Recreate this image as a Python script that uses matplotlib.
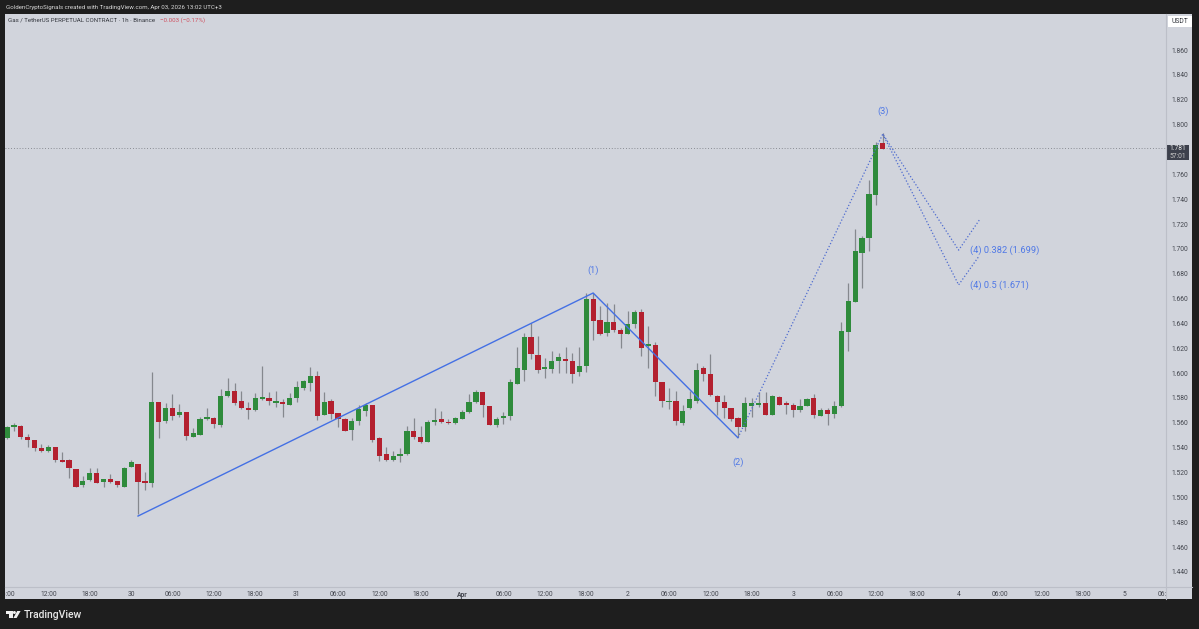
import matplotlib
matplotlib.use("Agg")
import matplotlib.pyplot as plt
from matplotlib.patches import Rectangle, Polygon, Circle
from matplotlib.transforms import Bbox

plt.rcParams['font.family'] = ['Roboto', 'DejaVu Sans']

opens = [1.5476,1.5565,1.5578,1.5490,1.5460,1.5398,1.5372,1.5409,1.5302,1.5299,1.5230,1.5098,1.5136,1.5197,1.5122,1.5147,1.5128,1.5085,1.5246,1.5267,1.5128,1.5117,
 1.5768,1.5616,1.5720,1.5666,1.5688,1.5484,1.5506,1.5629,1.5640,1.5586,1.5814,1.5857,1.5779,1.5720,1.5704,1.5795,1.5801,1.5763,1.5768,1.5744,1.5798,
 1.5878,1.5923,1.5977,1.5666,1.5779,1.5677,1.5629,1.5545,1.5615,1.5693,1.5746,1.5479,1.5350,1.5302,1.5336,1.5347,1.5537,1.5489,1.5444,1.5607,1.5629,1.5610,1.5596,1.5634,1.5688,1.5765,1.5846,1.5738,1.5586,1.5637,1.5655,
 1.5916,1.6026,1.6288,1.6149,1.6036,1.6036,1.6095,1.6117,1.6098,1.6007,
 1.6058,1.6596,1.6427,1.6326,1.6409,1.6347,1.6315,1.6395,1.6489,1.6221,1.6226,1.5926,1.5765,1.5779,1.5602,1.5717,1.5779,1.6041,1.5996,1.5816,1.5765,1.5717,1.5637,1.5564,1.5739,1.5744,1.5757,1.5666,1.5808,1.5749,1.5747,1.5706,1.5739,1.5798,1.5656,1.5706,1.5669,1.5736,
 1.6330,1.6571,1.6965,1.7088,1.7434,1.7850]
highs = [1.5575,1.5597,1.5583,1.5511,1.5460,1.5428,1.5425,1.5409,1.5366,1.5307,1.5230,1.5173,1.5240,1.5240,1.5147,1.5187,1.5128,1.5246,1.5297,1.5267,1.5208,1.6010,
 1.5768,1.5758,1.5830,1.5750,1.5688,1.5559,1.5645,1.5720,1.5650,1.5870,1.5959,1.5924,1.5859,1.5766,1.5838,1.6058,1.5849,1.5859,1.5790,1.5838,1.5937,
 1.5945,1.6047,1.6020,1.5846,1.5795,1.5677,1.5637,1.5637,1.5744,1.5757,1.5746,1.5489,1.5409,1.5377,1.5395,1.5575,1.5637,1.5578,1.5623,1.5717,1.5696,1.5631,1.5650,1.5704,1.5830,1.5864,1.5846,1.5738,1.5645,1.5688,1.5950,
 1.6208,1.6326,1.6401,1.6299,1.6119,1.6181,1.6160,1.6208,1.6160,1.6208,
 1.6642,1.6642,1.6540,1.6567,1.6556,1.6360,1.6500,1.6508,1.6513,1.6382,1.6253,1.5932,1.5883,1.5859,1.5744,1.5857,1.6079,1.6058,1.6154,1.5824,1.5827,1.5717,1.5650,1.5811,1.5798,1.5846,1.5846,1.5824,1.5816,1.5776,1.5757,1.5790,1.5798,1.5830,1.5717,1.5717,1.5779,1.6414,
 1.6729,1.7158,1.7105,1.7555,1.7863,1.7930]
lows = [1.5468,1.5538,1.5468,1.5409,1.5377,1.5369,1.5366,1.5281,1.5281,1.5157,1.5082,1.5080,1.5130,1.5112,1.5080,1.5114,1.5080,1.5085,1.5243,1.4870,1.5061,1.5080,
 1.5482,1.5597,1.5624,1.5645,1.5463,1.5484,1.5506,1.5624,1.5557,1.5570,1.5806,1.5744,1.5712,1.5632,1.5699,1.5784,1.5741,1.5725,1.5650,1.5744,1.5771,
 1.5864,1.5859,1.5623,1.5661,1.5631,1.5567,1.5535,1.5462,1.5583,1.5658,1.5449,1.5291,1.5294,1.5296,1.5288,1.5339,1.5468,1.5441,1.5444,1.5580,1.5602,1.5591,1.5591,1.5634,1.5682,1.5763,1.5650,1.5580,1.5570,1.5591,1.5623,
 1.5916,1.5940,1.6114,1.6004,1.5959,1.5999,1.5999,1.5999,1.5924,1.5977,
 1.6012,1.6267,1.6307,1.6301,1.6328,1.6200,1.6315,1.6360,1.6138,1.6044,1.5816,1.5731,1.5709,1.5586,1.5581,1.5709,1.5757,1.5937,1.5816,1.5664,1.5637,1.5618,1.5489,1.5538,1.5650,1.5731,1.5666,1.5666,1.5741,1.5669,1.5650,1.5688,1.5733,1.5640,1.5656,1.5581,1.5642,1.5725,
 1.6175,1.6571,1.6689,1.6979,1.7354,1.7801]
closes = [1.5570,1.5586,1.5487,1.5463,1.5396,1.5372,1.5409,1.5297,1.5286,1.5238,1.5085,1.5128,1.5197,1.5114,1.5147,1.5122,1.5098,1.5240,1.5281,1.5122,1.5117,1.5768,
 1.5605,1.5720,1.5656,1.5688,1.5495,1.5516,1.5629,1.5650,1.5594,1.5817,1.5857,1.5763,1.5717,1.5704,1.5798,1.5809,1.5776,1.5779,1.5755,1.5798,1.5886,
 1.5939,1.5977,1.5655,1.5768,1.5674,1.5629,1.5535,1.5615,1.5709,1.5744,1.5465,1.5336,1.5304,1.5336,1.5350,1.5537,1.5486,1.5446,1.5604,1.5618,1.5604,1.5596,1.5637,1.5688,1.5765,1.5846,1.5746,1.5586,1.5629,1.5655,1.5926,
 1.6039,1.6288,1.6154,1.6026,1.6042,1.6101,1.6130,1.6095,1.5993,1.6058,
 1.6596,1.6417,1.6315,1.6409,1.6344,1.6315,1.6395,1.6489,1.6205,1.6226,1.5926,1.5773,1.5776,1.5615,1.5696,1.5790,1.6025,1.5996,1.5827,1.5765,1.5717,1.5629,1.5564,1.5757,1.5757,1.5752,1.5666,1.5816,1.5747,1.5747,1.5706,1.5739,1.5790,1.5666,1.5706,1.5669,1.5739,1.6339,
 1.6579,1.6979,1.7086,1.7440,1.7839,1.7801]

wave_x = [19, 85, 106]
wave_y = [1.485, 1.6645, 1.548]
fib382_x = [106, 127, 138, 141]
fib382_y = [1.548, 1.7924, 1.699, 1.7232]
fib5_x = [127, 138, 141]
fib5_y = [1.7924, 1.671, 1.6945]
last_price = 1.7808

x_ticks = [0,6,12,18,24,30,36,42,48,54,60,66,72,78,84,90,96,102,108,114,120,126,132,138,144,150,156,162,168]
x_labels = ['06:00','12:00','18:00','30','06:00','12:00','18:00','31','06:00','12:00','18:00','Apr','06:00','12:00','18:00','2','06:00','12:00','18:00','3','06:00','12:00','18:00','4','06:00','12:00','18:00','5','06:00']
y_ticks = [1.44,1.46,1.48,1.50,1.52,1.54,1.56,1.58,1.60,1.62,1.64,1.66,1.68,1.70,1.72,1.74,1.76,1.80,1.82,1.84,1.86]

W, H = 1199, 629
PANEL = '#d1d4dc'
DARK = '#1e1e1e'
GREEN = '#2f8b3c'
RED = '#b3202f'
WICK = '#85888e'
BLUE = '#4470e4'
DOT = '#4f6cd0'
TXT = '#44474f'

fig = plt.figure(figsize=(W/100, H/100), dpi=100, facecolor=DARK)

bg = fig.add_axes([0, 0, 1, 1], zorder=0)
bg.set_xlim(0, W); bg.set_ylim(H, 0); bg.axis('off')
bg.add_patch(Rectangle((5, 14), 1187, 585, fc=PANEL, ec='none'))
bg.plot([5, 1192], [586.5, 586.5], color='#bcbfc8', lw=0.8)
bg.plot([1165.5, 1165.5], [14, 599], color='#bcbfc8', lw=0.8)
bg.add_patch(Rectangle((1168, 16), 24, 10.5, fc='white', ec='none'))
bg.text(1180, 21.5, 'USDT', ha='center', va='center', fontsize=4.9, color='#33363d')
bg.text(5.5, 7, 'GoldenCryptoSignals created with TradingView.com, Apr 03, 2026 13:02 UTC+3',
        ha='left', va='center', fontsize=4.42, color='#d8d8d8')
bg.text(8.5, 20.5, 'Gas / TetherUS PERPETUAL CONTRACT · 1h · Binance', ha='left', va='center',
        fontsize=4.4, color='#33363d')
bg.text(160, 20.5, '−0.003 (−0.17%)', ha='left', va='center', fontsize=4.4, color='#d0505f')

# price tag
bg.add_patch(Rectangle((1166, 145), 22.5, 15, fc='#3c404c', ec='none'))
bg.text(1177.5, 149, '1.781', ha='center', va='center', fontsize=4.9, color='#e8e8e8')
bg.text(1177.5, 156, '57:01', ha='center', va='center', fontsize=4.9, color='#c8c8c8')

# TradingView logo
bg.add_patch(Polygon([(6, 611), (12.5, 611), (12.5, 618), (9.3, 618), (9.3, 614), (6, 614)], fc='#f0f0f0', ec='none'))
bg.add_patch(Circle((14.4, 612.5), 1.5, fc='#f0f0f0', ec='none'))
bg.add_patch(Polygon([(17.2, 611), (20.6, 611), (16.6, 618), (13.4, 618)], fc='#f0f0f0', ec='none'))
bg.text(23.5, 614.5, 'TradingView', ha='left', va='center', fontsize=7.5, color='#e8e8e8', fontweight='medium')

ax = fig.add_axes([5/W, 1-586.5/H, (1165.5-5)/W, (586.5-14)/H], zorder=1)
ax.patch.set_alpha(0)
for s in ax.spines.values():
    s.set_visible(False)
ax.set_xlim(-0.29, 167.9)
ax.set_ylim(1.4283, 1.8890)

idx = list(range(len(opens)))
ax.vlines(idx, lows, highs, color=WICK, lw=0.9, zorder=2)
colors = [GREEN if c >= o else RED for o, c in zip(opens, closes)]
bottoms = [min(o, c) for o, c in zip(opens, closes)]
heights = [max(abs(c - o), 0.0012) for o, c in zip(opens, closes)]
ax.bar(idx, heights, bottom=bottoms, width=0.76, color=colors, linewidth=0, zorder=3)

ax.axhline(last_price, color='#73767d', lw=0.6, ls=(0, (1, 2.4)), zorder=1)
ax.plot(wave_x, wave_y, color=BLUE, lw=1.0, zorder=4)
ax.plot(fib382_x, fib382_y, color=DOT, lw=0.9, ls=(0, (1, 1.6)), zorder=4)
ax.plot(fib5_x, fib5_y, color=DOT, lw=0.9, ls=(0, (1, 1.6)), zorder=4)

LB = '#4f78e6'
ax.text(85, 1.679, '(1)', ha='center', va='bottom', fontsize=6.6, color=LB)
ax.text(106, 1.5325, '(2)', ha='center', va='top', fontsize=6.6, color=LB)
ax.text(127, 1.8072, '(3)', ha='center', va='bottom', fontsize=6.6, color=LB)
ax.text(139.7, 1.699, '(4) 0.382 (1.699)', ha='left', va='center', fontsize=6.7, color=LB)
ax.text(139.6, 1.6705, '(4) 0.5 (1.671)', ha='left', va='center', fontsize=6.7, color=LB)

ax.yaxis.tick_right()
ax.set_yticks(y_ticks)
ax.set_yticklabels([f'{v:.3f}' for v in y_ticks], fontsize=4.9, color=TXT)
ax.tick_params(axis='y', length=0, pad=4.0)
ax.set_xticks(x_ticks)
ax.set_xticklabels(x_labels, fontsize=4.9, color=TXT)
ax.tick_params(axis='x', length=0, pad=3.0)
clip = Bbox([[5, H-599], [1165.5, H-586]])
for lab in ax.get_xticklabels():
    lab.set_clip_on(True)
    lab.set_clip_box(clip)
    if lab.get_text() == 'Apr':
        lab.set_fontweight('bold')

fig.savefig('out.png', dpi=100, facecolor=DARK)
